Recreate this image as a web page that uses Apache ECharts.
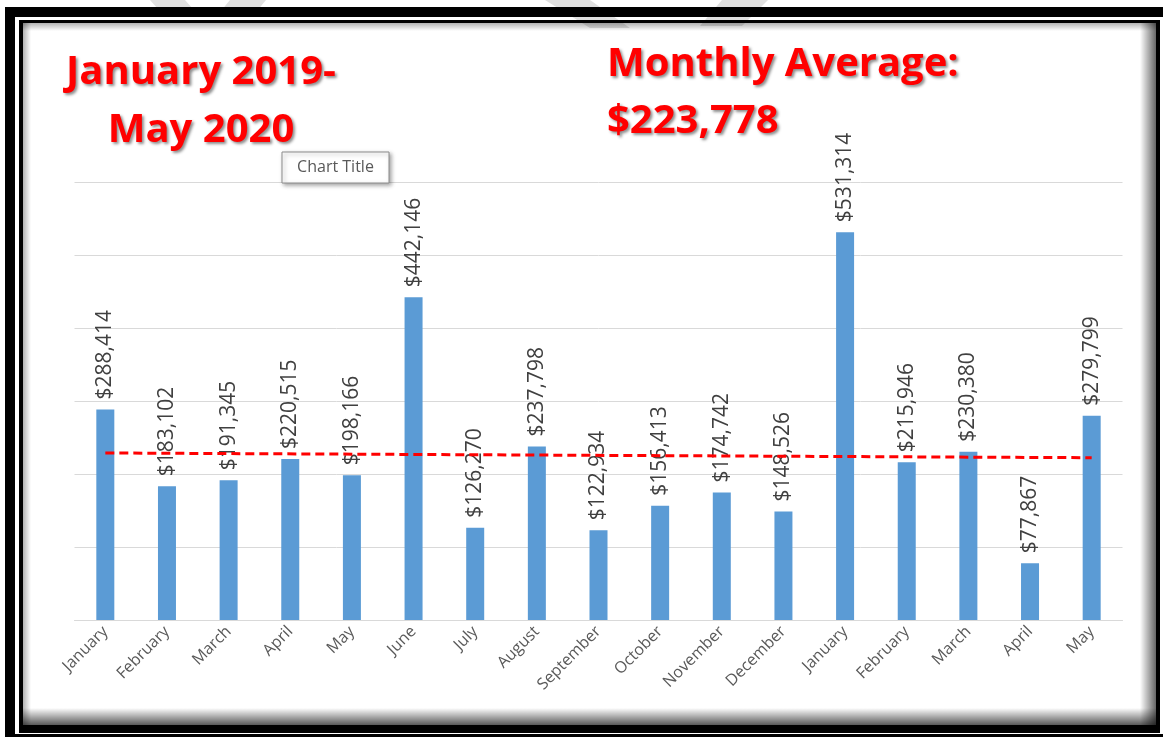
<!DOCTYPE html>
<html>
<head>
<meta charset="utf-8">
<script src="https://cdn.jsdelivr.net/npm/echarts@6/dist/echarts.min.js"></script>
<style>
html,body{margin:0;padding:0;background:#fff;}
#c{width:1163px;height:739px;}
</style>
</head>
<body>
<div id="c"></div>
<script>
const categories = ['January','February','March','April','May','June','July','August','September','October','November','December','January','February','March','April','May'];
const revenue = [288414,183102,191345,220515,198166,442146,126270,237798,122934,156413,174742,148526,531314,215946,230380,77867,279799];
const trendStartEnd = [228800, 222300];
const periodLines = ['January 2019-', 'May 2020'];
const averageLines = ['Monthly Average:', '$223,778'];
const yMax = 600000;
const yStep = 100000;

const fmt = v => '$' + Number(v).toLocaleString('en-US');
const red = '#ff0000';
const titleShadow = {textShadowColor:'rgba(0,0,0,0.45)', textShadowBlur:3, textShadowOffsetX:2, textShadowOffsetY:2};

function gradRect(x,y,w,h,dir,a0,a1){
  const g = dir==='v' ? {x:0,y:0,x2:0,y2:1} : {x:0,y:0,x2:1,y2:0};
  return {type:'rect', shape:{x,y,width:w,height:h}, silent:true, z:50,
    style:{fill:{type:'linear', ...g, colorStops:[{offset:0,color:'rgba(0,0,0,'+a0+')'},{offset:1,color:'rgba(0,0,0,'+a1+')'}]}}};
}

const chart = echarts.init(document.getElementById('c'), null, {renderer:'canvas'});
chart.setOption({
  backgroundColor:'#ffffff',
  animation:false,
  grid:{left:74.5, right:40.5, top:182, bottom:119, containLabel:false},
  xAxis:{
    type:'category', data:categories,
    axisLine:{lineStyle:{color:'#d9d9d9', width:1}},
    axisTick:{show:false},
    axisLabel:{interval:0, rotate:45, margin:9, color:'#595959', fontFamily:'Open Sans', fontSize:16}
  },
  yAxis:{
    type:'value', min:0, max:yMax, interval:yStep,
    axisLabel:{show:false}, axisLine:{show:false}, axisTick:{show:false},
    splitLine:{lineStyle:{color:'#d9d9d9', width:1}}
  },
  series:[
    {
      type:'bar', data:revenue, barWidth:18,
      itemStyle:{color:'#5b9bd5'},
      label:{show:true, position:'top', rotate:90, align:'left', verticalAlign:'middle', distance:10,
        color:'#404040', fontFamily:'Open Sans', fontSize:21, formatter:p=>fmt(p.value)}
    },
    {
      type:'line', data:[[0,trendStartEnd[0]],[categories.length-1,trendStartEnd[1]]],
      symbol:'none', z:5,
      lineStyle:{color:red, width:3, type:[9,5]}
    }
  ],
  graphic:[
    // watermark-like grey shapes at the very top
    {type:'polygon', silent:true, z:1, shape:{points:[[150,0],[185,0],[200,17],[165,17]]}, style:{fill:'#e0e0e0'}},
    {type:'polygon', silent:true, z:1, shape:{points:[[230,0],[266,0],[252,17],[216,17]]}, style:{fill:'#e0e0e0'}},
    {type:'polygon', silent:true, z:1, shape:{points:[[545,0],[590,0],[630,28],[590,28]]}, style:{fill:'#e0e0e0'}},
    {type:'polygon', silent:true, z:1, shape:{points:[[722,0],[768,0],[742,26],[700,26]]}, style:{fill:'#e0e0e0'}},
    // outer frame
    {type:'rect', silent:true, z:60, shape:{x:5,y:7,width:1158,height:10}, style:{fill:'#000'}},
    {type:'rect', silent:true, z:60, shape:{x:5,y:7,width:10,height:730}, style:{fill:'#000'}},
    {type:'rect', silent:true, z:60, shape:{x:5,y:734,width:1158,height:3}, style:{fill:'#000'}},
    // inner frame
    {type:'rect', silent:true, z:60, shape:{x:19,y:20,width:1141,height:3}, style:{fill:'#000'}},
    {type:'rect', silent:true, z:60, shape:{x:19,y:20,width:4,height:713}, style:{fill:'#000'}},
    {type:'rect', silent:true, z:60, shape:{x:1156,y:20,width:4,height:713}, style:{fill:'#000'}},
    {type:'rect', silent:true, z:60, shape:{x:19,y:725,width:1141,height:8}, style:{fill:'#000'}},
    // inner shadow
    gradRect(23,23,1133,8,'v',0.3,0),
    gradRect(23,23,8,702,'h',0.3,0),
    gradRect(23,708,1133,17,'v',0,0.65),
    gradRect(1140,23,16,702,'h',0,0.6),
    // annotations
    {type:'text', z:40, x:201, y:73, style:{text:periodLines[0], fill:red, font:'bold 40px "Open Sans"', align:'center', verticalAlign:'middle', ...titleShadow}},
    {type:'text', z:40, x:201, y:131, style:{text:periodLines[1], fill:red, font:'bold 40px "Open Sans"', align:'center', verticalAlign:'middle', ...titleShadow}},
    {type:'text', z:40, x:607, y:65, style:{text:averageLines[0], fill:red, font:'bold 40px "Open Sans"', align:'left', verticalAlign:'middle', ...titleShadow}},
    {type:'text', z:40, x:607, y:122, style:{text:averageLines[1], fill:red, font:'bold 40px "Open Sans"', align:'left', verticalAlign:'middle', ...titleShadow}},
    // "Chart Title" hover box
    {type:'rect', z:41, shape:{x:282,y:152,width:107,height:31}, style:{fill:'#fff', stroke:'#8c8c8c', lineWidth:1, shadowColor:'rgba(0,0,0,0.35)', shadowBlur:4, shadowOffsetX:2, shadowOffsetY:2}},
    {type:'text', z:42, x:335.5, y:167.5, style:{text:'Chart Title', fill:'#595959', font:'16px "Open Sans"', align:'center', verticalAlign:'middle'}}
  ]
});
</script>
</body>
</html>
